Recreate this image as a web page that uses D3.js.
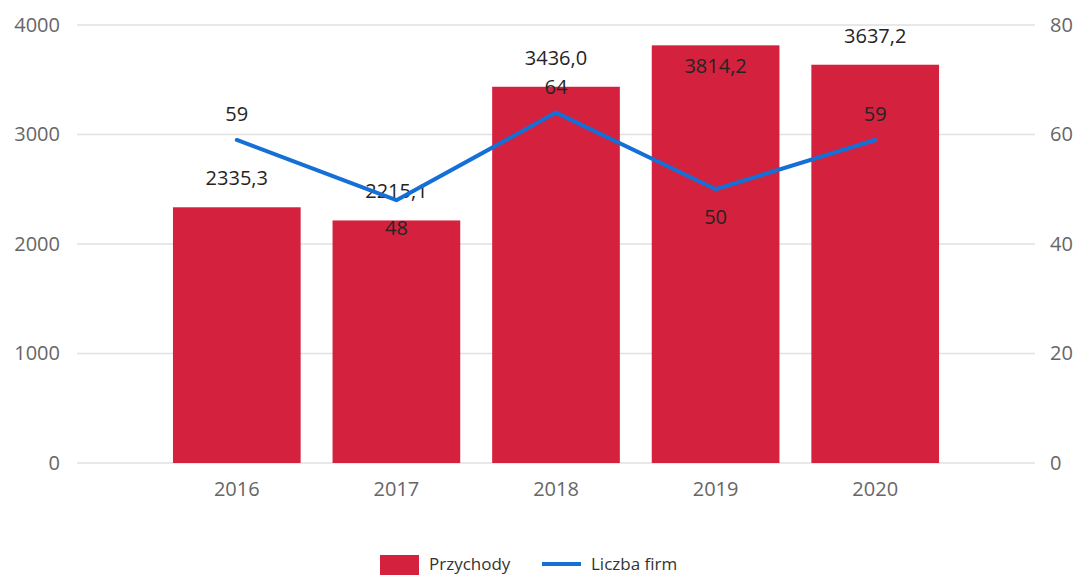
<!DOCTYPE html>
<html>
<head>
<meta charset="utf-8">
<script src="https://cdn.jsdelivr.net/npm/d3@7"></script>
<style>
  body { margin: 0; background: #fff; }
  text { font-family: "Open Sans", "Noto Sans", sans-serif; }
</style>
</head>
<body>
<div id="chart"></div>
<script>
// Przychody (bars, left axis) + Liczba firm (line, right axis)
const years = ["2016", "2017", "2018", "2019", "2020"];
const revenue = [2335.3, 2215.1, 3436.0, 3814.2, 3637.2];
const firms = [59, 48, 64, 50, 59];
const revenueLabelPos = ["above", "above", "above", "inside", "above"];
const firmsLabelPos = ["above", "below", "above", "below", "above"];
const leftTicks = [0, 1000, 2000, 3000, 4000];
const rightTicks = [0, 20, 40, 60, 80];

const width = 1078, height = 575;
const plot = { left: 77, right: 1035, top: 25, bottom: 463 };

const svg = d3.select("#chart")
    .append("svg")
    .attr("width", width)
    .attr("height", height);

const x = d3.scaleBand()
    .domain(years)
    .range([plot.left + 80, plot.right - 80])
    .paddingInner(0.2)
    .paddingOuter(0.1);

const yLeft = d3.scaleLinear().domain([0, 4000]).range([plot.bottom, plot.top]);
const yRight = d3.scaleLinear().domain([0, 80]).range([plot.bottom, plot.top]);

const fmt = v => v.toFixed(1).replace(".", ",");

// gridlines
svg.append("g")
    .selectAll("line")
    .data(leftTicks)
    .enter().append("line")
    .attr("x1", plot.left)
    .attr("x2", plot.right)
    .attr("y1", d => yLeft(d))
    .attr("y2", d => yLeft(d))
    .attr("stroke", "#e1e1e1")
    .attr("stroke-width", 1.5);

// left axis
const leftAxis = svg.append("g")
    .attr("transform", `translate(${plot.left - 17},0)`)
    .call(d3.axisLeft(yLeft).tickValues(leftTicks).tickFormat(d3.format("d")).tickSize(0).tickPadding(0));
leftAxis.select(".domain").remove();
leftAxis.selectAll("text")
    .style("font-size", "20px")
    .attr("fill", "#666");

// right axis
const rightAxis = svg.append("g")
    .attr("transform", `translate(${plot.right + 15},0)`)
    .call(d3.axisRight(yRight).tickValues(rightTicks).tickSize(0).tickPadding(0));
rightAxis.select(".domain").remove();
rightAxis.selectAll("text")
    .style("font-size", "20px")
    .attr("fill", "#666");

// x axis
const xAxis = svg.append("g")
    .attr("transform", `translate(0,${plot.bottom + 19})`)
    .call(d3.axisBottom(x).tickSize(0).tickPadding(0));
xAxis.select(".domain").remove();
xAxis.selectAll("text")
    .style("font-size", "20px")
    .attr("fill", "#666");

// bars
svg.selectAll("rect.bar")
    .data(years)
    .enter().append("rect")
    .attr("class", "bar")
    .attr("x", d => x(d))
    .attr("y", (d, i) => yLeft(revenue[i]))
    .attr("width", x.bandwidth())
    .attr("height", (d, i) => plot.bottom - yLeft(revenue[i]))
    .attr("fill", "#d4213d");

// bar labels
svg.selectAll("text.barLabel")
    .data(years)
    .enter().append("text")
    .attr("class", "barLabel")
    .attr("x", d => x(d) + x.bandwidth() / 2)
    .attr("y", (d, i) => yLeft(revenue[i]) + (revenueLabelPos[i] === "inside" ? 21 : -29))
    .attr("dy", "0.35em")
    .attr("text-anchor", "middle")
    .style("font-size", "20px")
    .attr("fill", "#252423")
    .text((d, i) => fmt(revenue[i]));

// line
const line = d3.line()
    .x(d => x(d[0]) + x.bandwidth() / 2)
    .y(d => yRight(d[1]));

svg.append("path")
    .datum(years.map((y, i) => [y, firms[i]]))
    .attr("d", line)
    .attr("fill", "none")
    .attr("stroke", "#146fd7")
    .attr("stroke-width", 4)
    .attr("stroke-linejoin", "round")
    .attr("stroke-linecap", "round");

// line labels
svg.selectAll("text.lineLabel")
    .data(years)
    .enter().append("text")
    .attr("class", "lineLabel")
    .attr("x", d => x(d) + x.bandwidth() / 2)
    .attr("y", (d, i) => yRight(firms[i]) + (firmsLabelPos[i] === "below" ? 28 : -26))
    .attr("dy", "0.35em")
    .attr("text-anchor", "middle")
    .style("font-size", "20px")
    .attr("fill", "#252423")
    .text((d, i) => firms[i]);

// legend
const legend = svg.append("g").attr("transform", "translate(380, 564)");
legend.append("rect")
    .attr("x", 0)
    .attr("y", -9)
    .attr("width", 39)
    .attr("height", 20)
    .attr("fill", "#d4213d");
legend.append("text")
    .attr("x", 49)
    .attr("y", 0)
    .attr("dy", "0.35em")
    .style("font-size", "17px")
    .attr("fill", "#333")
    .text("Przychody");
legend.append("line")
    .attr("x1", 162)
    .attr("x2", 201)
    .attr("y1", 0)
    .attr("y2", 0)
    .attr("stroke", "#146fd7")
    .attr("stroke-width", 4);
legend.append("text")
    .attr("x", 211)
    .attr("y", 0)
    .attr("dy", "0.35em")
    .style("font-size", "17px")
    .attr("fill", "#333")
    .text("Liczba firm");
</script>
</body>
</html>
